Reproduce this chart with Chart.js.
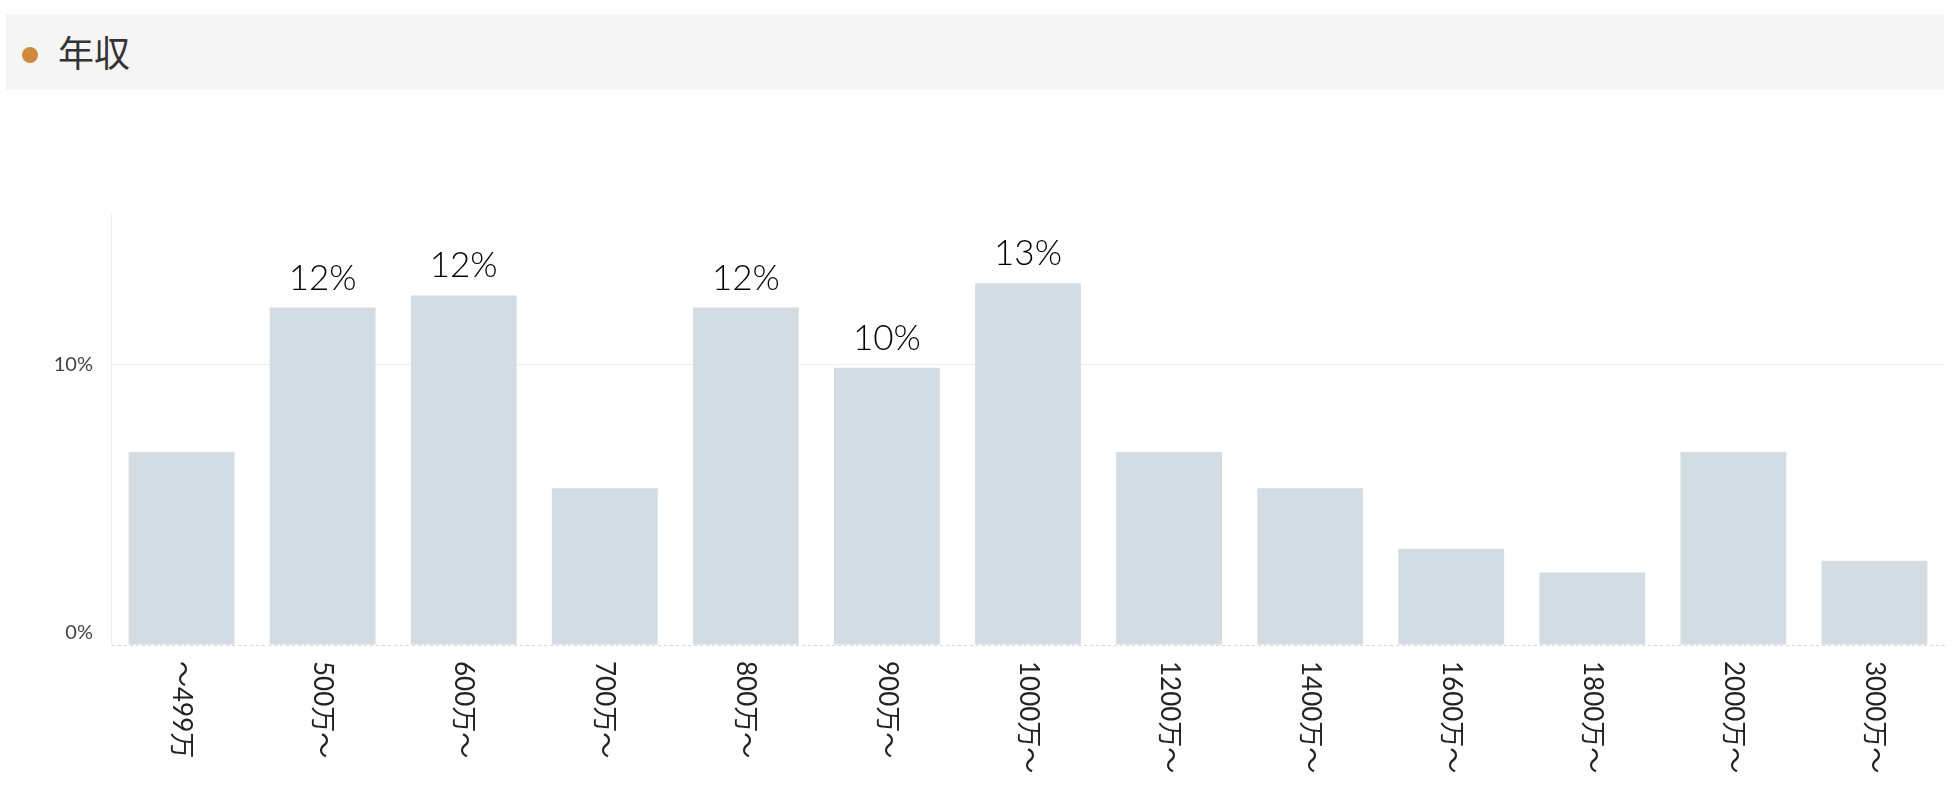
<!DOCTYPE html>
<html>
<head>
<meta charset="utf-8">
<script src="https://cdn.jsdelivr.net/npm/chart.js@4"></script>
<style>
  body { margin: 0; background: #fff; width: 1950px; height: 806px; overflow: hidden; }
  .header {
    position: absolute; left: 6px; top: 14px; width: 1938px; height: 76px;
    background: #f5f5f5;
  }
  .header .dot {
    position: absolute; left: 16px; top: 33px; width: 16px; height: 16px;
    border-radius: 50%; background: #d08a3e;
  }
  .header .title {
    position: absolute; left: 52px; top: 15px; font-size: 36px; line-height: 44px;
    color: #333; font-family: "Noto Sans CJK JP", sans-serif;
  }
  .chart-box { position: absolute; left: 0; top: 0; width: 1950px; height: 806px; }
</style>
</head>
<body>
<div class="header"><span class="dot"></span><span class="title">年収</span></div>
<div class="chart-box"><canvas id="incomeChart"></canvas></div>
<script>
// income bands and share of respondents (%)
const incomeLabels = ['～499万', '500万～', '600万～', '700万～', '800万～', '900万～', '1000万～',
    '1200万～', '1400万～', '1600万～', '1800万～', '2000万～', '3000万～'];
const incomeShare = [6.87, 12.02, 12.45, 5.58, 12.02, 9.87, 12.88, 6.87, 5.58, 3.43, 2.58, 6.87, 3.00];
const yTicks = [0, 10];

const FONT = 'Lato, "Noto Sans CJK JP", sans-serif';

// value labels above the taller bars
const barValueLabels = {
    id: 'barValueLabels',
    afterDatasetsDraw(chart) {
        const ctx = chart.ctx;
        const meta = chart.getDatasetMeta(0);
        ctx.save();
        ctx.font = '300 35px ' + FONT;
        ctx.fillStyle = '#000';
        ctx.textAlign = 'center';
        ctx.textBaseline = 'alphabetic';
        meta.data.forEach((bar, i) => {
            const v = Math.round(incomeShare[i]);
            if (v < 10) return;
            ctx.fillText(v + '%', bar.x, bar.y - 18);
        });
        ctx.restore();
    }
};

// axis labels: y ticks (0% sits a bit above its line), x labels read top to bottom
const axisLabels = {
    id: 'axisLabels',
    afterDraw(chart) {
        const ctx = chart.ctx;
        const xScale = chart.scales.x;
        const yScale = chart.scales.y;
        ctx.save();
        ctx.font = '20px ' + FONT;
        ctx.fillStyle = '#444';
        ctx.textAlign = 'right';
        ctx.textBaseline = 'middle';
        yTicks.forEach(v => {
            const y = yScale.getPixelForValue(v) - (v === 0 ? 12 : 0);
            ctx.fillText(v + '%', yScale.right - 18, y);
        });

        ctx.font = '26px ' + FONT;
        ctx.fillStyle = '#222';
        ctx.textAlign = 'left';
        incomeLabels.forEach((label, i) => {
            const x = xScale.getPixelForTick(i);
            ctx.save();
            ctx.translate(x, xScale.top + 16);
            ctx.rotate(Math.PI / 2);
            ctx.fillText(label, 0, 0);
            ctx.restore();
        });
        ctx.restore();
    }
};

new Chart(document.getElementById('incomeChart'), {
    type: 'bar',
    data: {
        labels: incomeLabels,
        datasets: [{
            data: incomeShare,
            backgroundColor: '#d3dce3',
            barPercentage: 0.75,
            categoryPercentage: 1
        }]
    },
    options: {
        responsive: true,
        maintainAspectRatio: false,
        animation: false,
        layout: { padding: { top: 214, right: 5, left: 0, bottom: 0 } },
        plugins: {
            legend: { display: false },
            tooltip: { enabled: false }
        },
        scales: {
            x: {
                grid: { display: false },
                border: { display: false },
                ticks: { display: false },
                afterFit(scale) { scale.height = 161; }
            },
            y: {
                min: 0,
                max: 15.35,
                afterBuildTicks(scale) {
                    scale.ticks = yTicks.map(v => ({ value: v }));
                },
                grid: {
                    drawTicks: false,
                    color: c => {
                        if (!c.tick) return 'rgba(0,0,0,0)';
                        if (c.tick.value === 10) return '#ececec';
                        if (c.tick.value === 0) return '#d8d8d8';
                        return 'rgba(0,0,0,0)';
                    }
                },
                border: {
                    color: '#eeeeee',
                    dash: c => (c.tick && c.tick.value === 0) ? [3, 3] : []
                },
                ticks: { display: false },
                afterFit(scale) { scale.width = 111; }
            }
        }
    },
    plugins: [barValueLabels, axisLabels]
});
</script>
</body>
</html>
